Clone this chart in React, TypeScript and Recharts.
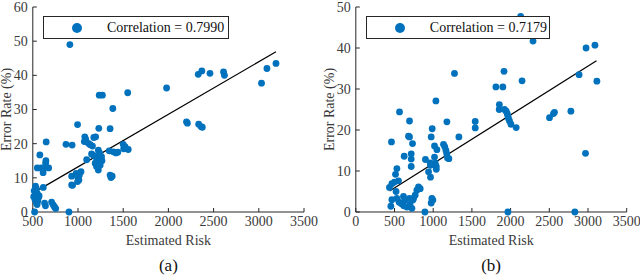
import React from "react"
import { ScatterChart, Scatter, XAxis, YAxis, ReferenceLine, Legend } from "recharts"

// panel (a)
const riskA = [
  910, 3190, 3090, 3030, 2610, 2620, 2460, 2370, 2330, 1980,
  2200, 2210, 2335, 2360, 2375, 1550, 1235, 1270, 1385, 995,
  1230, 1355, 1075, 1085, 1070, 1175, 1195, 1115, 1135, 1160,
  867, 935, 648, 578, 550, 590, 620, 675, 614, 645,
  642, 616, 530, 540, 510, 525, 540, 550, 570, 555,
  548, 520, 900, 630, 640, 708, 725, 740, 753, 930,
  930, 940, 980, 997, 1010, 995, 1033, 1015, 1096, 1150,
  1170, 1195, 1225, 1240, 1260, 1190, 1205, 1225, 1245, 1210,
  1265, 1355, 1365, 1378, 1345, 1390, 1420, 1440, 1500, 1520,
  1528, 1556, 1505, 515, 560,
]
const errorA = [
  49, 43.5, 42, 37.7, 41, 40, 40.6, 41.3, 40.3, 36.3,
  26.4, 26, 25.7, 25, 24.8, 34.9, 34.2, 34.2, 30.3, 25.6,
  24.5, 24.4, 22, 21.3, 20.6, 21.8, 22, 20.1, 19.7, 19.3,
  19.8, 19.6, 20.5, 16.7, 12.9, 12.9, 12.7, 12.9, 11.5, 15,
  14.3, 7.2, 7.6, 6.8, 4.5, 3.6, 2.6, 5.4, 4.7, 3.2,
  2.2, 0, 0, 2.6, 1.8, 2.9, 2.1, 1.5, 1, 10.5,
  7.9, 7.8, 11.3, 10.3, 9.4, 8.9, 11.8, 10.8, 15.3, 17,
  16.6, 16.2, 18.1, 17.2, 16.2, 14.3, 13.3, 12.3, 13.7, 15.2,
  15, 10.8, 10.1, 10.5, 17.9, 17.6, 17.3, 17.5, 19.8, 19.1,
  18.6, 18.3, 18.5, 6.2, 4.0,
]
const fitA = [{ x: 505, y: 5.6 }, { x: 3190, y: 46.9 }]
const xTicksA = [500, 1000, 1500, 2000, 2500, 3000, 3500]
const yTicksA = [0, 10, 20, 30, 40, 50, 60]

// panel (b)
const riskB = [
  2130, 2290, 2975, 3090, 3115, 2885, 2148, 1915, 1810, 1900,
  1275, 1855, 1853, 1921, 1943, 1956, 1965, 1973, 1986, 2004,
  2072, 2503, 2554, 2567, 2779, 2968, 1965, 2830, 1543, 1543,
  1332, 565, 694, 461, 681, 694, 733, 716, 716, 716,
  625, 987, 974, 1177, 1035, 1017, 1048, 1017, 1027, 1040,
  1040, 961, 965, 940, 965, 1133, 1150, 1165, 1175, 1185,
  1203, 531, 513, 552, 500, 466, 435, 810, 832, 789,
  767, 746, 737, 466, 531, 616, 638, 694, 453, 590,
  620, 660, 700, 725, 560, 893, 983, 996, 974, 900,
  520,
]
const errorB = [
  47.7, 41.7, 40, 40.7, 31.9, 33.5, 32, 34.3, 30.5, 30.5,
  33.8, 26.2, 25, 25, 24.6, 24, 23.4, 22.8, 22.2, 21.4,
  20.6, 23, 24, 24.3, 24.6, 14.3, 0, 0, 22.1, 20.5,
  18.3, 24.4, 22.2, 17.1, 18.5, 18.3, 16.7, 14.2, 12.9, 11.1,
  13.6, 20.3, 18.3, 22, 27.1, 16.1, 15.2, 13.4, 11.9, 11.1,
  10.4, 12, 11.4, 9.8, 8.5, 16.5, 15.9, 15, 14.2, 13.2,
  13, 10.6, 9.2, 7.6, 7.3, 6.9, 6, 6.1, 5.7, 5.3,
  4.1, 3.3, 2.9, 3, 3.3, 3.8, 2.9, 3.3, 1.4, 2,
  1.5, 1.2, 1.8, 0.9, 2.4, 0, 3.3, 2.9, 2.2, 12.8,
  5,
]
const fitB = [{ x: 436, y: 5.1 }, { x: 3110, y: 36.9 }]
const xTicksB = [0, 500, 1000, 1500, 2000, 2500, 3000, 3500]
const yTicksB = [0, 10, 20, 30, 40, 50]

const FONT = "Liberation Serif, Times New Roman, serif"
const INK = "#262626"
const TEXT = "#3a3a3a"
const DOT = "#0072BD"
const AXIS_W = 32.8

const toPoints = (xs: number[], ys: number[]) => xs.map((x, i) => ({ x, y: ys[i] }))

const Dot = (p: any) => <circle cx={p.cx} cy={p.cy} r={3.4} fill={DOT} />

function LegendBox({ payload, width }: any) {
  const item = payload && payload[0]
  return (
    <div style={{
      width, height: 23, boxSizing: "border-box", border: `1px solid ${INK}`,
      background: "#fff", position: "relative", fontFamily: FONT, fontSize: 14, color: "#111",
    }}>
      <svg width={12} height={12} style={{ position: "absolute", left: 27, top: 5 }}>
        <circle cx={6} cy={6} r={5} fill={DOT} />
      </svg>
      <span style={{ position: "absolute", left: 63, top: 0, lineHeight: "21px", whiteSpace: "nowrap" }}>
        {item ? item.value : ""}
      </span>
    </div>
  )
}

interface PanelProps {
  xs: number[]
  ys: number[]
  fit: { x: number; y: number }[]
  xTicks: number[]
  yTicks: number[]
  corr: string
  tag: string
  left: number
  width: number
  right: number
  legendWidth: number
}

function Panel({ xs, ys, fit, xTicks, yTicks, corr, tag, left, width, right, legendWidth }: PanelProps) {
  const data = toPoints(xs, ys)
  const tickStyle = { fontFamily: FONT, fontSize: 14, fill: TEXT }
  return (
    <div style={{ position: "absolute", left, top: 0, width, height: 276 }}>
      <ScatterChart width={width} height={276} margin={{ top: 7, right, bottom: 24, left: 0 }}>
        <XAxis
          type="number"
          dataKey="x"
          domain={[xTicks[0], xTicks[xTicks.length - 1]]}
          ticks={xTicks}
          interval={0}
          height={40}
          tickSize={-4}
          tickMargin={8}
          tick={tickStyle}
          axisLine={{ stroke: INK }}
          tickLine={{ stroke: INK }}
          label={(p: any) => (
            <text x={p.viewBox.x + p.viewBox.width / 2} y={p.viewBox.y + 33} textAnchor="middle"
              fontFamily={FONT} fontSize={14} fill={TEXT}>Estimated Risk</text>
          )}
        />
        <YAxis
          type="number"
          dataKey="y"
          domain={[yTicks[0], yTicks[yTicks.length - 1]]}
          ticks={yTicks}
          interval={0}
          width={AXIS_W}
          tickSize={-4}
          tickMargin={9}
          tick={tickStyle}
          axisLine={{ stroke: INK }}
          tickLine={{ stroke: INK }}
          label={(p: any) => {
            const cx = 11
            const cy = p.viewBox.y + p.viewBox.height / 2
            return (
              <text x={cx} y={cy} transform={`rotate(-90, ${cx}, ${cy})`} textAnchor="middle"
                fontFamily={FONT} fontSize={14} fill={TEXT}>Error Rate (%)</text>
            )
          }}
        />
        <Legend
          layout="vertical"
          align="center"
          verticalAlign="middle"
          wrapperStyle={{ left: 43, top: 16, width: legendWidth }}
          content={(p: any) => <LegendBox payload={p.payload} width={legendWidth} />}
        />
        <Scatter name={corr} data={data} shape={Dot} fill={DOT} isAnimationActive={false} />
        <ReferenceLine segment={fit} stroke="#000" strokeWidth={1.2} />
      </ScatterChart>
      <div style={{
        position: "absolute", left: AXIS_W, width: width - AXIS_W - right, top: 256,
        textAlign: "center", fontFamily: FONT, fontSize: 17, color: "#111", lineHeight: "20px",
      }}>{tag}</div>
    </div>
  )
}

export default function App() {
  return (
    <div style={{ position: "absolute", left: 0, top: 0, width: 640, height: 276, background: "#fff" }}>
      <Panel xs={riskA} ys={errorA} fit={fitA} xTicks={xTicksA} yTicks={yTicksA}
        corr="Correlation = 0.7990" tag="(a)" left={0} width={322} right={18} legendWidth={186} />
      <Panel xs={riskB} ys={errorB} fit={fitB} xTicks={xTicksB} yTicks={yTicksB}
        corr="Correlation = 0.7179" tag="(b)" left={322.8} width={317.2} right={13.5} legendWidth={184} />
    </div>
  )
}
